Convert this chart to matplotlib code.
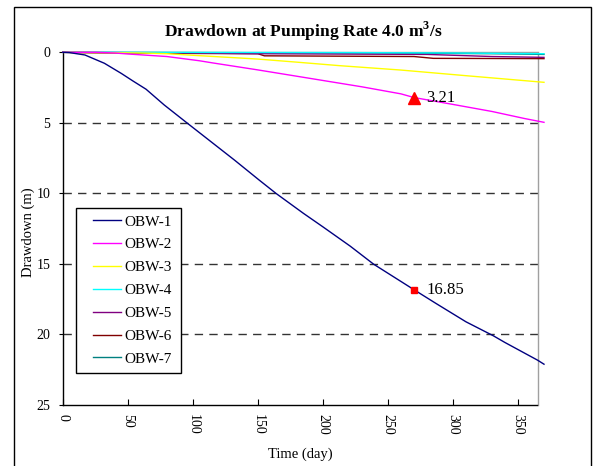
import numpy as np
import matplotlib
matplotlib.use("Agg")
import matplotlib.pyplot as plt
from matplotlib.legend_handler import HandlerLine2D
from matplotlib.patches import Rectangle

plt.rcParams['font.family'] = ['Liberation Serif', 'DejaVu Serif']
plt.rcParams['mathtext.fontset'] = 'custom'
plt.rcParams['mathtext.rm'] = 'Liberation Serif'
plt.rcParams['mathtext.bf'] = 'Liberation Serif:bold'

# ---- data ----
obw1_days = [0, 5, 17, 32, 45, 54, 64, 78, 96, 114, 132, 151, 164, 185, 200, 221, 239, 270, 287, 310, 331, 340, 365, 370]
obw1_dd = [0, 0.02, 0.19, 0.78, 1.5, 2.04, 2.62, 3.74, 5.05, 6.35, 7.65, 9.07, 10.02, 11.43, 12.39, 13.76, 15.04, 16.85, 17.83, 19.13, 20.12, 20.6, 21.85, 22.14]

obw2_days = [0, 25, 40, 50, 80, 105, 115, 150, 180, 230, 260, 270, 300, 330, 355, 370]
obw2_dd = [0, 0.0, 0.05, 0.12, 0.3, 0.6, 0.75, 1.25, 1.7, 2.45, 2.95, 3.21, 3.7, 4.2, 4.7, 4.97]

obw3_days = [0, 60, 80, 105, 150, 180, 213, 260, 310, 370]
obw3_dd = [0, 0.05, 0.1, 0.24, 0.48, 0.7, 0.95, 1.26, 1.66, 2.13]

obw4_days = [0, 220, 300, 370]
obw4_dd = [0, 0.02, 0.05, 0.1]

obw5_days = [0, 30, 100, 150, 280, 330, 370]
obw5_dd = [0, 0.02, 0.05, 0.1, 0.15, 0.3, 0.36]

obw6_days = [0, 40, 100, 150, 155, 270, 285, 370]
obw6_dd = [0, 0.05, 0.08, 0.1, 0.25, 0.3, 0.43, 0.45]

obw7_days = [0, 100, 250, 330, 370]
obw7_dd = [0, 0.02, 0.05, 0.1, 0.15]

labels = ['OBW-1', 'OBW-2', 'OBW-3', 'OBW-4', 'OBW-5', 'OBW-6', 'OBW-7']
colors = ['#000080', '#FF00FF', '#FFFF00', '#00FFFF', '#800080', '#800000', '#008080']

mark1_day, mark1_val = 270, 16.85
mark2_day, mark2_val = 270, 3.21

x_ticks = [0, 50, 100, 150, 200, 250, 300, 350]
y_ticks = [0, 5, 10, 15, 20, 25]
grid_levels = [5, 10, 15, 20]

# ---- figure ----
fig = plt.figure(figsize=(5.93, 4.66), dpi=100)
ax = fig.add_axes([62.8 / 593, 1 - 404.5 / 466, (537.5 - 62.8) / 593, (404.5 - 52.3) / 466])

for lv in grid_levels:
    ax.axhline(lv, color='#333333', lw=1.0, linestyle=(0, (6, 4.5)), zorder=1)

series = [(obw1_days, obw1_dd), (obw2_days, obw2_dd), (obw3_days, obw3_dd),
          (obw4_days, obw4_dd), (obw5_days, obw5_dd), (obw6_days, obw6_dd),
          (obw7_days, obw7_dd)]
lines = {}
for i in range(len(series) - 1, -1, -1):
    d, v = series[i]
    ln, = ax.plot(d, v, color=colors[i], lw=1.0, clip_on=False, zorder=3, label=labels[i])
    lines[i] = ln
handles = [lines[i] for i in range(len(series))]

ax.plot([mark1_day], [mark1_val], marker='s', color='red', markersize=5, linestyle='none', zorder=5)
ax.plot([mark2_day], [mark2_val], marker='^', color='red', markersize=8, linestyle='none', zorder=5)
ax.annotate(f'{mark1_val:.2f}', (mark1_day, mark1_val), xytext=(9, 0), textcoords='offset points',
            fontsize=12, va='center', ha='left')
ax.annotate(f'{mark2_val:.2f}', (mark2_day, mark2_val), xytext=(9, 0), textcoords='offset points',
            fontsize=12, va='center', ha='left')

ax.set_xlim(0, 365)
ax.set_ylim(25, 0)
ax.set_xticks(x_ticks)
ax.set_yticks(y_ticks)
ax.set_xticklabels([str(t) for t in x_ticks], rotation=-90, fontsize=10)
ax.set_yticklabels([str(t) for t in y_ticks], fontsize=10)
ax.tick_params(axis='x', direction='in', length=4, width=0.8, pad=7)
ax.tick_params(axis='y', direction='out', length=3, width=0.8, pad=6)

for s in ['left', 'bottom']:
    ax.spines[s].set_color('black')
    ax.spines[s].set_linewidth(1.0)
for s in ['right', 'top']:
    ax.spines[s].set_color('#a0a0a0')
    ax.spines[s].set_linewidth(1.0)

ax.set_xlabel('Time (day)', fontsize=10.5)
ax.set_ylabel('Drawdown (m)', fontsize=10.5)
ax.xaxis.set_label_coords(0.5, -(448 - 404.5) / 352.2)
ax.yaxis.set_label_coords(-(62.8 - 35) / 474.7, 0.49)
fig.text(0.512, 1 - 31 / 466, r'Drawdown at Pumping Rate 4.0 m$^{\mathbf{3}}$/s', fontsize=12.6,
         fontweight='bold', ha='center', va='center')


class ShortLine(HandlerLine2D):
    def get_xdata(self, legend, xdescent, ydescent, width, height, fontsize):
        x0 = -xdescent + 0.26 * width
        x1 = -xdescent + width
        return np.array([x0, x1]), np.array([x0, x1])


leg = ax.legend(handles=handles, labels=labels, loc='upper left',
                bbox_to_anchor=(76 / 593, 1 - 208 / 466 - 0.01, (181 - 76) / 593, 0.01),
                bbox_transform=fig.transFigure, mode='expand', fontsize=11,
                frameon=True, fancybox=False, edgecolor='black', framealpha=1,
                borderpad=0.45, labelspacing=0.6, handlelength=2.5, handletextpad=0.2,
                borderaxespad=0, handler_map={matplotlib.lines.Line2D: ShortLine()})
leg.get_frame().set_linewidth(1.0)

fig.patches.append(Rectangle((14 / 593, -0.1), (591 - 14) / 593, 1.1 - 7 / 466,
                             transform=fig.transFigure, fill=False, edgecolor='black', lw=1.0))

fig.savefig('out.png', dpi=100)
